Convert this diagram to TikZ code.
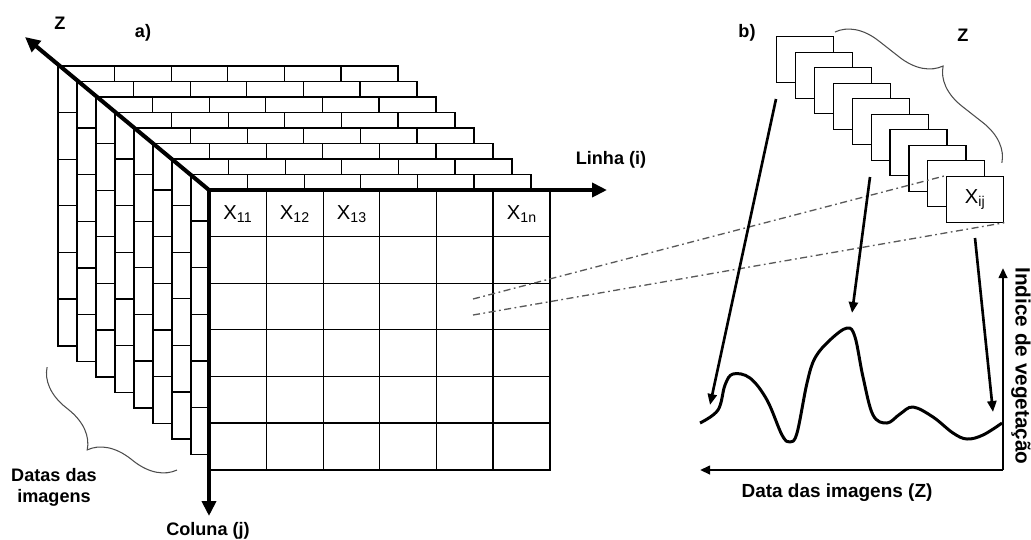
\documentclass[tikz,border=0pt]{standalone}
\usepackage{fontspec}
\setmainfont{Liberation Sans}
\usetikzlibrary{arrows.meta, decorations.pathreplacing}

\begin{document}
\begin{tikzpicture}[x=0.02cm, y=-0.02cm,
  cell/.style={line width=0.7pt},
  axis/.style={line width=2.3pt, -{Triangle[length=0.3cm,width=0.28cm]}},
  lbl/.style={font=\bfseries\fontsize{10.3}{12}\selectfont},
  val/.style={font=\fontsize{11.5}{12}\selectfont},
  imgbox/.style={draw, fill=white, line width=0.7pt, minimum width=1.14cm, minimum height=0.92cm, anchor=north west, inner sep=0pt},
  link/.style={dash pattern=on 4pt off 2pt on 1pt off 2pt, line width=0.75pt, black!65},
  pointer/.style={line width=1.5pt, -{Triangle[length=0.22cm,width=0.18cm]}},
  gaxis/.style={line width=1.3pt, -{Triangle[length=0.2cm,width=0.17cm]}},
  brace/.style={decorate, decoration={brace, amplitude=0.8cm}, line width=0.6pt, black!70}]
  \useasboundingbox (0,0) rectangle (1031,539);

  % a) stack of images
  \foreach \k in {8,...,0}{
    \begin{scope}[shift={(-19*\k,-15.5*\k)}]
      \filldraw[cell, fill=white] (210,190) rectangle (550,470);
      \foreach \c in {1,...,5}
        \draw[cell] ({210+56.6*\c},190) -- ({210+56.6*\c},470);
      \foreach \r in {1,...,5}
        \draw[cell] (210,{190+46.6*\r}) -- (550,{190+46.6*\r});
    \end{scope}
  }
  \node[val] (x11) at (238,214) {X\textsubscript{11}};
  \node[val] (x12) at (295,214) {X\textsubscript{12}};
  \node[val] (x13) at (352,214) {X\textsubscript{13}};
  \node[val] (x1n) at (522,214) {X\textsubscript{1n}};

  \coordinate (o) at (209,190);
  \coordinate (zend) at (25,37);
  \coordinate (iend) at (607,190);
  \coordinate (jend) at (209,516);
  \draw[axis] (o) -- (zend);
  \draw[axis] (o) -- (iend);
  \draw[axis] (o) -- (jend);
  \node[lbl] (za) at (60,23) {Z};
  \node[lbl] (ta) at (143,33) {a)};
  \node[lbl] (linha) at (611,160) {Linha (i)};
  \node[lbl] (coluna) at (208,531) {Coluna (j)};
  \node[lbl, align=center] (datas) at (54,487) {Datas das\\imagens};
  \draw[brace] (177,470) -- (47,367);

  % b) time series of one pixel
  \foreach \k in {0,...,9}
    \node[imgbox] (b\k) at ({776+18.9*\k},{36+15.5*\k}) {};
  \node[val] at (b9) {X\textsubscript{ij}};
  \node[lbl] (tb) at (747,33) {b)};
  \node[lbl] (zb) at (963,35) {Z};
  \draw[brace] (835,32) -- (1002,163);

  \coordinate (p1) at (473,299);
  \coordinate (p2) at (473,315);
  \draw[link] (p1) -- (b9.north west);
  \draw[link] (p2) -- (b9.south east);

  \coordinate (s1) at (776,99);  \coordinate (e1) at (710,405);
  \coordinate (s2) at (870,177); \coordinate (e2) at (852,313);
  \coordinate (s3) at (975,238); \coordinate (e3) at (993,412);
  \draw[pointer] (s1) -- (e1);
  \draw[pointer] (s2) -- (e2);
  \draw[pointer] (s3) -- (e3);

  \draw[line width=1.7pt, line join=round] plot[smooth, tension=0.6] coordinates {
    (700,423) (718,410) (725,385) (733,374) (750,378) (767,400) (782,435)
    (790,442) (797,433) (807,383) (815,358) (830,340) (847,328) (855,337)
    (863,377) (873,415) (887,423) (900,414) (913,407) (933,417) (953,433)
    (967,439) (983,435) (1002,423)};

  \coordinate (g) at (1003,470);
  \coordinate (gy) at (1003,268);
  \coordinate (gx) at (700,470);
  \draw[gaxis] (g) -- (gy);
  \draw[gaxis] (g) -- (gx);
  \node[lbl, font=\bfseries\fontsize{10.8}{12}\selectfont] (xlab) at (837,493) {Data das imagens (Z)};
  \node[lbl, font=\bfseries\fontsize{11.8}{12}\selectfont, rotate=-90] (ylab) at (1021,366) {Indice de vegetação};
\end{tikzpicture}
\end{document}
